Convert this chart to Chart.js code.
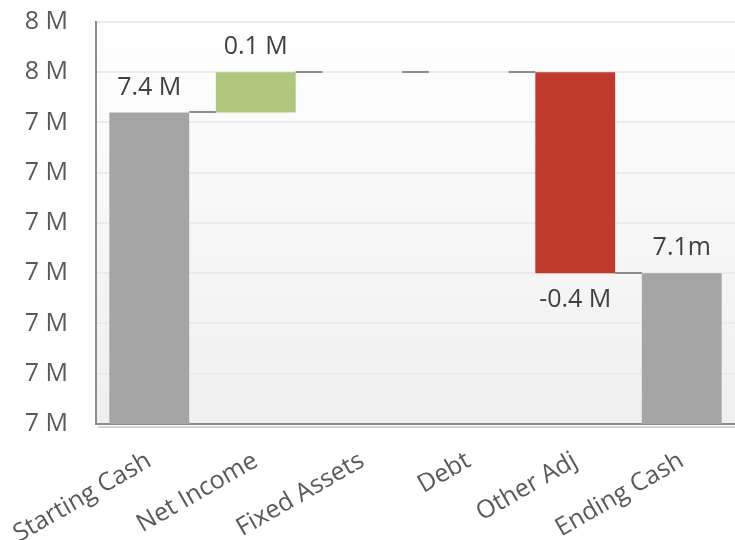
<!DOCTYPE html>
<html>
<head>
<meta charset="utf-8">
<script src="https://cdn.jsdelivr.net/npm/chart.js@4/dist/chart.umd.min.js"></script>
<style>
  html, body { margin: 0; padding: 0; background: #ffffff; }
  #wrap { width: 735px; height: 540px; }
</style>
</head>
<body>
<div id="wrap"><canvas id="cash"></canvas></div>
<script>
// Cash bridge: opening balance, movements, closing balance (millions)
const categories = ['Starting Cash', 'Net Income', 'Fixed Assets', 'Debt', 'Other Adj', 'Ending Cash'];
const amounts = [7.42, 0.08, 0, 0, -0.4, 7.1];        // totals for first/last, changes in between
const isTotal = [true, false, false, false, false, true];
const labelSuffix = [' M', ' M', ' M', ' M', ' M', 'm'];
const yMin = 6.8, yMax = 7.6, yStep = 0.1;

const FONT = '"Open Sans", "Noto Sans", sans-serif';
const COLORS = { total: '#a5a5a5', up: '#afc77b', down: '#c0392b' };

// Build floating [low, high] ranges from the running balance
const ranges = [];
const levels = [];   // running balance after each step
let running = 0;
amounts.forEach((v, i) => {
  if (isTotal[i]) {
    ranges.push([yMin, v]);
    running = v;
  } else {
    const next = running + v;
    ranges.push([Math.min(running, next), Math.max(running, next)]);
    running = next;
  }
  levels.push(running);
});
const barColors = amounts.map((v, i) => isTotal[i] ? COLORS.total : (v >= 0 ? COLORS.up : COLORS.down));

const plotBackground = {
  id: 'plotBackground',
  beforeDraw(chart) {
    const { ctx, chartArea: a } = chart;
    const g = ctx.createLinearGradient(0, a.top, 0, a.bottom);
    g.addColorStop(0, '#ffffff');
    g.addColorStop(1, '#efefef');
    ctx.save();
    ctx.fillStyle = g;
    ctx.fillRect(a.left, a.top, chart.width - a.left, a.bottom - a.top);
    ctx.restore();
  }
};

const connectors = {
  id: 'connectors',
  afterDatasetsDraw(chart) {
    const { ctx, scales: { y } } = chart;
    const bars = chart.getDatasetMeta(0).data;
    ctx.save();
    ctx.strokeStyle = '#8c8c8c';
    ctx.lineWidth = 2;
    for (let i = 0; i < bars.length - 1; i++) {
      const py = Math.round(y.getPixelForValue(levels[i]));
      const x1 = bars[i].x + bars[i].width / 2;
      const x2 = bars[i + 1].x - bars[i + 1].width / 2;
      ctx.beginPath();
      ctx.moveTo(x1, py);
      ctx.lineTo(x2, py);
      ctx.stroke();
    }
    ctx.restore();
  }
};

const valueLabels = {
  id: 'valueLabels',
  afterDatasetsDraw(chart) {
    const { ctx, scales: { y } } = chart;
    const bars = chart.getDatasetMeta(0).data;
    ctx.save();
    ctx.font = '25px ' + FONT;
    ctx.fillStyle = '#404040';
    ctx.textAlign = 'center';
    ctx.textBaseline = 'middle';
    amounts.forEach((v, i) => {
      if (v === 0) return;
      const text = v.toFixed(1) + labelSuffix[i];
      let py;
      if (!isTotal[i] && v < 0) {
        py = y.getPixelForValue(ranges[i][0]) + 27;
      } else {
        py = y.getPixelForValue(ranges[i][1]) - 25;
      }
      ctx.fillText(text, bars[i].x, py);
    });
    ctx.restore();
  }
};

const axisShadow = {
  id: 'axisShadow',
  afterDraw(chart) {
    const { ctx, chartArea: a } = chart;
    ctx.save();
    ctx.strokeStyle = '#d4d4d4';
    ctx.lineWidth = 2;
    ctx.beginPath();
    ctx.moveTo(a.left + 2, a.bottom + 3);
    ctx.lineTo(chart.width, a.bottom + 3);
    ctx.stroke();
    ctx.restore();
  }
};

new Chart(document.getElementById('cash'), {
  type: 'bar',
  data: {
    labels: categories,
    datasets: [{
      data: ranges,
      backgroundColor: barColors,
      borderWidth: 0,
      categoryPercentage: 1,
      barPercentage: 0.75
    }]
  },
  options: {
    responsive: true,
    maintainAspectRatio: false,
    animation: false,
    layout: { padding: { left: 0, top: 22, right: -2, bottom: 0 } },
    plugins: { legend: { display: false }, tooltip: { enabled: false } },
    scales: {
      x: {
        grid: { display: false, drawTicks: false },
        border: { display: true, color: '#8c8c8c', width: 2 },
        ticks: {
          color: '#595959',
          font: { family: FONT, size: 25 },
          minRotation: 30,
          maxRotation: 30,
          padding: 22,
          autoSkip: false
        },
        afterFit(scale) {
          // let the rotated labels run past the canvas edge instead of shrinking the plot
          scale.paddingLeft = 0;
          scale.paddingRight = 0;
          scale.height = 116;
        }
      },
      y: {
        min: yMin,
        max: yMax,
        grid: { color: '#ebebeb', lineWidth: 2, drawTicks: false },
        border: { display: true, color: '#8c8c8c', width: 2 },
        ticks: {
          stepSize: yStep,
          color: '#595959',
          font: { family: FONT, size: 25 },
          padding: 28,
          callback: (v) => Math.round(Math.round(v * 10) / 10) + ' M'
        },
        afterFit(scale) {
          scale.paddingTop = 0;
          scale.paddingBottom = 0;
          scale.width = 96;
        }
      }
    }
  },
  plugins: [plotBackground, connectors, valueLabels, axisShadow]
});
</script>
</body>
</html>
